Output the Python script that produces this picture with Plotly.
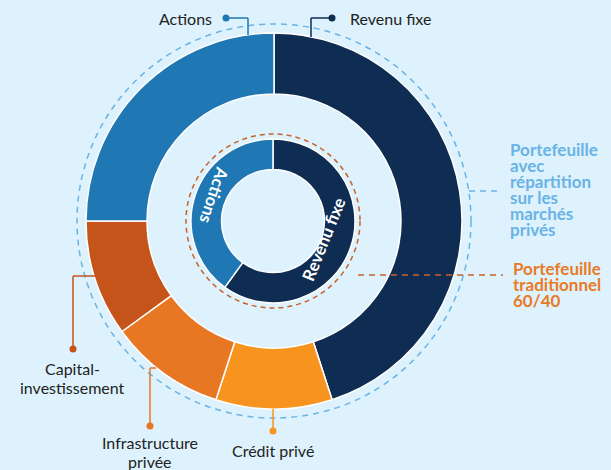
import plotly.graph_objects as go

W, H = 611, 470

# ---- data ----
inner_labels = ["Revenu fixe", "Actions"]
inner_values = [60, 40]
outer_labels = ["Revenu fixe", "Crédit privé", "Infrastructure privée", "Capital-investissement", "Actions"]
outer_values = [45, 10, 10, 10, 25]
private_caption = ["Portefeuille", "avec", "répartition", "sur les", "marchés", "privés"]
classic_caption = ["Portefeuille", "traditionnel", "60/40"]

# ---- styles ----
BG = "#ddf2fc"
NAVY = "#0f2d52"
BLUE = "#1f77b4"
CAPITAL = "#c4541a"
INFRA = "#e87724"
CREDIT = "#f7941f"
LIGHTBLUE = "#6ab3e6"
ORANGE_TXT = "#ea7a26"
DASH_OR = "#c9622a"
TXT = "#222222"
FONT = "Lato"

inner_colors = [NAVY, BLUE]
outer_colors = [NAVY, CREDIT, INFRA, CAPITAL, BLUE]

def px_dom(x0, x1, y0, y1):
    return dict(x=[x0 / W, x1 / W], y=[1 - y1 / H, 1 - y0 / H])

CX, CY = 274, 221
R_OUT = 188
R_IN = 82
ICX, ICY = 273, 221

fig = go.Figure()
fig.add_trace(go.Pie(
    labels=outer_labels, values=outer_values, hole=127 / 188,
    sort=False, direction="clockwise", rotation=0,
    marker=dict(colors=outer_colors, line=dict(color="white", width=1.5)),
    textinfo="none", hoverinfo="label+percent", showlegend=False,
    domain=px_dom(CX - R_OUT, CX + R_OUT, CY - R_OUT, CY + R_OUT),
))
fig.add_trace(go.Pie(
    labels=inner_labels, values=inner_values, hole=51.5 / 82,
    sort=False, direction="clockwise", rotation=0,
    marker=dict(colors=inner_colors, line=dict(color="white", width=1.5)),
    textinfo="none", hoverinfo="label+percent", showlegend=False,
    domain=px_dom(ICX - R_IN, ICX + R_IN, ICY - R_IN, ICY + R_IN),
))

shapes = []
def line(x0, y0, x1, y1, color, dash="solid", width=1.5):
    shapes.append(dict(type="line", xref="x", yref="y", x0=x0, y0=y0, x1=x1, y1=y1,
                       line=dict(color=color, width=width, dash=dash), layer="above"))

def dot(x, y, color, r=3.5):
    shapes.append(dict(type="circle", xref="x", yref="y", x0=x - r, x1=x + r, y0=y - r, y1=y + r,
                       fillcolor=color, line=dict(width=0), layer="above"))

# dashed circles
shapes.append(dict(type="circle", xref="x", yref="y", x0=CX - 197, x1=CX + 197, y0=CY - 197, y1=CY + 197,
                   line=dict(color=LIGHTBLUE, width=1.5, dash="6px,5px"), layer="below"))
shapes.append(dict(type="circle", xref="x", yref="y", x0=ICX - 87, x1=ICX + 87, y0=ICY - 87, y1=ICY + 87,
                   line=dict(color=DASH_OR, width=1.5, dash="5px,4px"), layer="below"))

# leader lines
line(226, 18, 248, 18, BLUE); line(248, 18, 248, 35, BLUE); dot(226, 18, BLUE)
line(332, 18, 311, 18, NAVY); line(311, 18, 311, 37, NAVY); dot(332, 18, NAVY)
line(73, 349, 73, 276, CAPITAL); line(73, 276, 95, 276, CAPITAL); dot(73, 349, CAPITAL)
line(150, 426, 150, 368, INFRA); line(150, 368, 156, 368, INFRA); dot(150, 426, INFRA)
line(273, 409, 273, 431, CREDIT); dot(273, 431, CREDIT)
# dashed connectors to right-side captions
line(469, 191, 502, 191, LIGHTBLUE, dash="6px,5px")
line(358, 275, 503, 275, DASH_OR, dash="6px,5px")

ann = []
def text(x, y, s, color=TXT, size=16, bold=False, xanchor="center", yanchor="middle", angle=0):
    ann.append(dict(xref="x", yref="y", x=x, y=y, text=(f"<b>{s}</b>" if bold else s), showarrow=False,
                    font=dict(family=FONT, size=size, color=color), xanchor=xanchor, yanchor=yanchor,
                    textangle=angle))

text(185, 18, outer_labels[4])
text(390, 18, outer_labels[0])
text(72, 368, "Capital-")
text(72, 387, "investissement")
text(150, 442, "Infrastructure")
text(150, 461, "privée")
text(273, 450, outer_labels[1])
for i, s in enumerate(private_caption):
    text(508, 149 + 16 * i, s, color=LIGHTBLUE, size=17, bold=True, xanchor="left")
for i, s in enumerate(classic_caption):
    text(511, 268 + 16 * i, s, color=ORANGE_TXT, size=17, bold=True, xanchor="left")
# inner ring labels
text(323, 239, inner_labels[0], color="white", size=17, bold=True, angle=-68)
text(215, 195, inner_labels[1], color="white", size=17, bold=True, angle=108)

fig.update_layout(
    width=W, height=H, margin=dict(l=0, r=0, t=0, b=0),
    paper_bgcolor=BG, plot_bgcolor=BG,
    xaxis=dict(range=[0, W], visible=False, fixedrange=True),
    yaxis=dict(range=[H, 0], visible=False, fixedrange=True),
    shapes=shapes, annotations=ann,
    font=dict(family=FONT),
)
fig.write_html("out.html", config={"displayModeBar": False},
               post_script="document.body.style.margin='0';document.body.style.overflow='hidden';")
